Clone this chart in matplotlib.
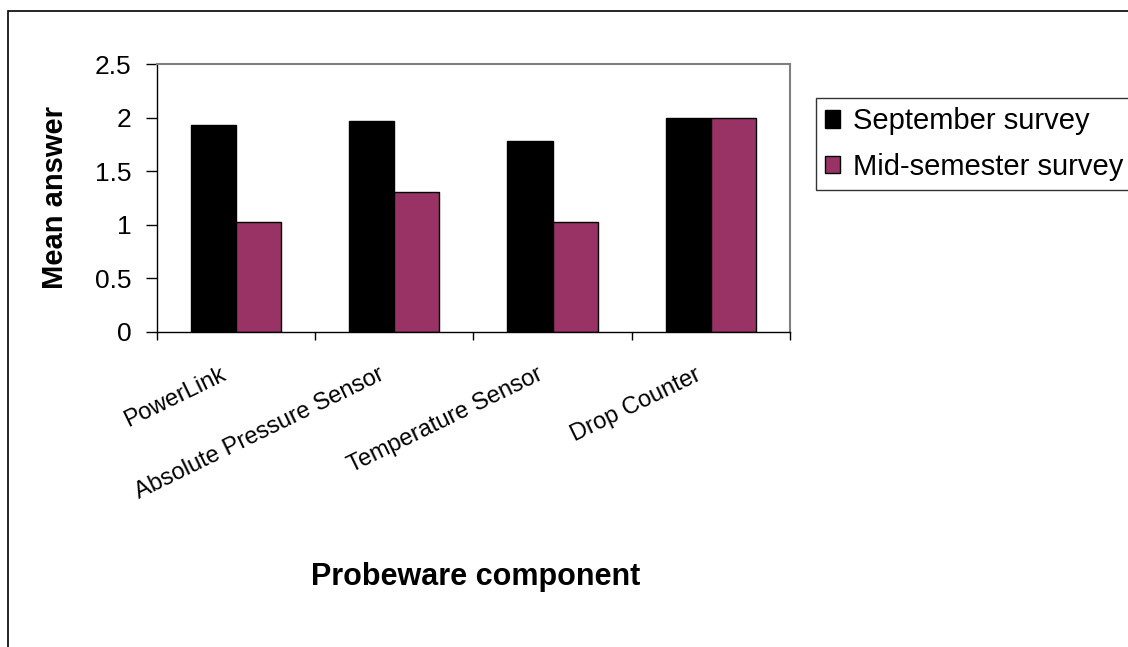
import matplotlib.pyplot as plt
import matplotlib.transforms as mtransforms
from matplotlib.patches import Rectangle
import numpy as np

plt.rcParams['font.family'] = ['Liberation Sans', 'DejaVu Sans']

# Data
components = ['PowerLink', 'Absolute Pressure Sensor', 'Temperature Sensor', 'Drop Counter']
september = [1.93, 1.97, 1.78, 2.0]
mid_semester = [1.03, 1.31, 1.03, 2.0]

sept_color = '#000000'
mid_color = '#993366'

W, H = 1128, 647
fig = plt.figure(figsize=(W / 100, H / 100), dpi=100)
ax = fig.add_axes([156.7 / W, 1 - 331.7 / H, (790 - 156.7) / W, (331.7 - 64.3) / H])

x = np.arange(len(components))
w = 1 / 3.5  # gap width 150%
ax.bar(x - w / 2, september, w, color=sept_color, edgecolor='black', linewidth=1,
       label='September survey')
ax.bar(x + w / 2, mid_semester, w, color=mid_color, edgecolor='black', linewidth=1,
       label='Mid-semester survey')

ax.set_xlim(-0.5, len(components) - 0.5)
ax.set_ylim(0, 2.5)
ax.set_yticks(np.arange(0, 2.51, 0.5))
ax.set_yticklabels(['0', '0.5', '1', '1.5', '2', '2.5'])
ax.tick_params(axis='y', direction='out', length=8, width=1, labelsize=19, pad=10)

# category boundaries get the tick marks, centres get the labels
ax.set_xticks(np.arange(-0.5, len(components)), labels=[''] * (len(components) + 1))
ax.set_xticks(x, minor=True)
ax.set_xticklabels(components, minor=True, rotation=26, ha='right',
                   rotation_mode='anchor', fontsize=17)
ax.tick_params(axis='x', which='major', direction='out', length=6, width=1)
ax.tick_params(axis='x', which='minor', length=0, pad=23)
shift = mtransforms.ScaledTranslation(-16 / 100, 0, fig.dpi_scale_trans)
for lbl in ax.get_xticklabels(minor=True):
    lbl.set_transform(lbl.get_transform() + shift)

for side in ['top', 'right']:
    ax.spines[side].set_color('#808080')
    ax.spines[side].set_linewidth(1.5)
for side in ['left', 'bottom']:
    ax.spines[side].set_color('black')
    ax.spines[side].set_linewidth(1)

fig.text(55 / W, 1 - 198 / H, 'Mean answer', fontsize=21, fontweight='bold',
         rotation=90, ha='center', va='center')
fig.text(476 / W, 1 - 577 / H, 'Probeware component', fontsize=22,
         fontweight='bold', ha='center', va='center')

leg = ax.legend(loc='upper left', bbox_to_anchor=(816 / W, 1 - 98 / H),
                bbox_transform=fig.transFigure, fontsize=21, frameon=True,
                fancybox=False, edgecolor='black', handlelength=0.5,
                handleheight=0.55, handletextpad=0.45, borderpad=0.32,
                labelspacing=0.6, borderaxespad=0)
leg.get_frame().set_linewidth(1)

# outer chart border
fig.patches.append(Rectangle((8 / W, -0.1), 1.2, 1 - 11 / H + 0.1,
                             transform=fig.transFigure, fill=False,
                             edgecolor='black', linewidth=1.2))

fig.savefig('out.png', dpi=100)
